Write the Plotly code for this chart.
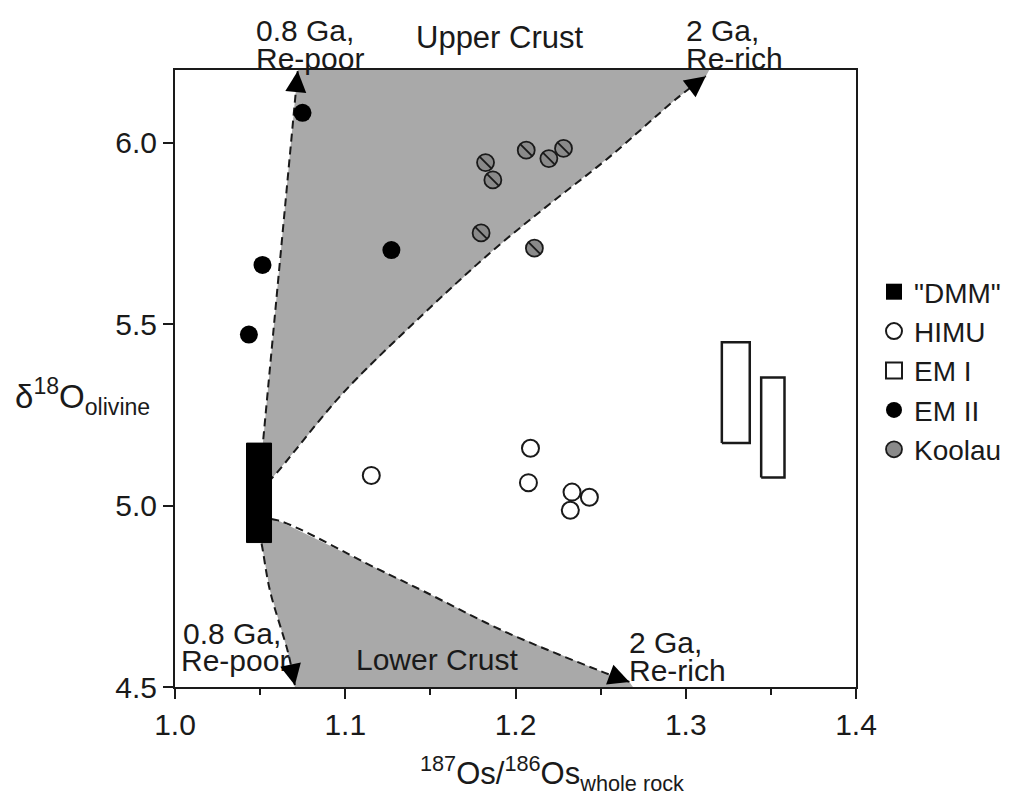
import math
import plotly.graph_objects as go

# ---------------- data ----------------
em2_x = [1.0749, 1.0514, 1.0434, 1.1271]
em2_y = [6.082, 5.663, 5.471, 5.704]

koolau_x = [1.1824, 1.1867, 1.2063, 1.2196, 1.2282, 1.1798, 1.2111]
koolau_y = [5.945, 5.897, 5.979, 5.956, 5.984, 5.751, 5.709]

himu_x = [1.1153, 1.2088, 1.2076, 1.2332, 1.2322, 1.2434]
himu_y = [5.083, 5.158, 5.063, 5.037, 4.987, 5.023]

dmm_x = [1.0420, 1.0567]
dmm_y = [4.898, 5.172]

em1_xlo = [1.3212, 1.3443]
em1_xhi = [1.3376, 1.3580]
em1_ylo = [5.172, 5.077]
em1_yhi = [5.450, 5.353]

# mixing trajectories
up_poor_x = [1.049, 1.0721]
up_poor_y = [5.04, 6.197]
up_rich_x = [1.049, 1.0567, 1.0985, 1.1437, 1.1865, 1.2199, 1.2551, 1.2943, 1.3118]
up_rich_y = [5.04, 5.074, 5.309, 5.518, 5.702, 5.830, 5.960, 6.120, 6.183]
up_top_x = [1.0721, 1.3138]          # where upper field meets top of frame

lo_poor_x = [1.049, 1.0508, 1.0557, 1.0665, 1.0704]
lo_poor_y = [4.93, 4.896, 4.767, 4.593, 4.505]
lo_rich_x = [1.049, 1.0606, 1.1183, 1.1456, 1.1926, 1.2493, 1.2669]
lo_rich_y = [4.965, 4.959, 4.827, 4.765, 4.655, 4.545, 4.514]
lo_bot_x = [1.0704, 1.269]           # where lower field meets bottom of frame

x_range = [1.0, 1.4]
y_range = [4.5, 6.2]
x_ticks = [1.0, 1.1, 1.2, 1.3, 1.4]
y_ticks = [4.5, 5.0, 5.5, 6.0]

# ---------------- layout constants ----------------
OFF = 8                      # page body margin of the html page
W, H = 1010, 789
ML, MR, MT, MB = 167, 161, 62, 110
FONT = "Liberation Sans, Arial, Helvetica, sans-serif"
INK = "#1a1a1a"
FIELD = "#a9a9a9"

plot_w = W - ML - MR
plot_h = H - MT - MB
left_px = OFF + ML
bottom_px = OFF + H - MB

fig = go.Figure()

# shaded fields
upper_poly_x = up_poor_x[:-1] + up_top_x + up_rich_x[::-1]
upper_poly_y = up_poor_y[:-1] + [y_range[1], y_range[1]] + up_rich_y[::-1]
fig.add_trace(go.Scatter(x=upper_poly_x, y=upper_poly_y, mode="lines", fill="toself",
                         fillcolor=FIELD, line=dict(width=0), hoverinfo="skip",
                         showlegend=False))
lower_poly_x = lo_rich_x + lo_bot_x[::-1] + lo_poor_x[::-1][1:]
lower_poly_y = lo_rich_y + [y_range[0], y_range[0]] + lo_poor_y[::-1][1:]
fig.add_trace(go.Scatter(x=lower_poly_x, y=lower_poly_y, mode="lines", fill="toself",
                         fillcolor=FIELD, line=dict(width=0), hoverinfo="skip",
                         showlegend=False))

# dashed trajectories
for xs, ys, shape in [(up_poor_x, up_poor_y, "linear"), (up_rich_x, up_rich_y, "spline"),
                      (lo_poor_x, lo_poor_y, "spline"), (lo_rich_x, lo_rich_y, "spline")]:
    fig.add_trace(go.Scatter(x=xs, y=ys, mode="lines",
                             line=dict(color=INK, width=2, dash="8px,5px", shape=shape),
                             hoverinfo="skip", showlegend=False))

# DMM box
fig.add_trace(go.Scatter(x=[dmm_x[0], dmm_x[1], dmm_x[1], dmm_x[0], dmm_x[0]],
                         y=[dmm_y[0], dmm_y[0], dmm_y[1], dmm_y[1], dmm_y[0]],
                         mode="lines", fill="toself", fillcolor="black",
                         line=dict(color="black", width=1), showlegend=False))
# EM I boxes
for i in range(len(em1_xlo)):
    fig.add_trace(go.Scatter(x=[em1_xlo[i], em1_xhi[i], em1_xhi[i], em1_xlo[i], em1_xlo[i]],
                             y=[em1_ylo[i], em1_ylo[i], em1_yhi[i], em1_yhi[i], em1_ylo[i]],
                             mode="lines", fill="toself", fillcolor="white",
                             line=dict(color=INK, width=2.5), showlegend=False))

# legend proxies and markers
fig.add_trace(go.Scatter(x=[None], y=[None], mode="markers", name='"DMM"',
                         marker=dict(symbol="square", size=16, color="black")))
fig.add_trace(go.Scatter(x=himu_x, y=himu_y, mode="markers", name="HIMU",
                         marker=dict(symbol="circle", size=17, color="white",
                                     line=dict(color=INK, width=2))))
fig.add_trace(go.Scatter(x=[None], y=[None], mode="markers", name="EM I",
                         marker=dict(symbol="square", size=16, color="white",
                                     line=dict(color=INK, width=2))))
fig.add_trace(go.Scatter(x=em2_x, y=em2_y, mode="markers", name="EM II",
                         marker=dict(symbol="circle", size=18, color="black")))
fig.add_trace(go.Scatter(x=koolau_x, y=koolau_y, mode="markers", name="Koolau",
                         marker=dict(symbol="circle", size=17, color="#8a8a8a",
                                     line=dict(color=INK, width=1.8))))
fig.add_trace(go.Scatter(x=koolau_x, y=koolau_y, mode="markers", showlegend=False,
                         marker=dict(symbol="line-nw", size=12,
                                     line=dict(color=INK, width=1.8))))

# arrowheads at the ends of the trajectories
sx = plot_w / (x_range[1] - x_range[0])
sy = plot_h / (y_range[1] - y_range[0])
annotations = []


def px2paper_x(px):
    return (px - left_px) / plot_w


def px2paper_y(py):
    return (bottom_px - py) / plot_h


def label(text, px, py, anchor="left", size=30):
    annotations.append(dict(x=px2paper_x(px), y=px2paper_y(py), xref="paper", yref="paper",
                            text=text, showarrow=False, xanchor=anchor, yanchor="middle",
                            font=dict(family=FONT, size=size, color=INK)))


label("0.8 Ga,", 254, 31)
label("Re-poor", 254, 58)
label("Upper Crust", 500, 37, "center", 31)
label("2 Ga,", 685, 31)
label("Re-rich", 685, 58)
label("0.8 Ga,", 181, 633)
label("Re-poor", 179, 660)
label("Lower Crust", 437, 659, "center")
label("2 Ga,", 628, 642)
label("Re-rich", 628, 670)

for xs, ys in [(up_poor_x, up_poor_y), (up_rich_x, up_rich_y),
               (lo_poor_x, lo_poor_y), (lo_rich_x, lo_rich_y)]:
    dx = (xs[-2] - xs[-1]) * sx
    dy = -(ys[-2] - ys[-1]) * sy
    n = math.hypot(dx, dy)
    L = 18
    annotations.append(dict(x=xs[-1], y=ys[-1], xref="x", yref="y", text="",
                            showarrow=True, arrowhead=2, arrowsize=2.8, arrowwidth=1.5,
                            arrowcolor="black", ax=dx / n * L, ay=dy / n * L))

# axis titles
annotations.append(dict(x=px2paper_x(152), y=px2paper_y(396), xref="paper", yref="paper",
                        text="δ<sup>18</sup>O<sub>olivine</sub>", showarrow=False,
                        xanchor="right", yanchor="middle",
                        font=dict(family=FONT, size=33, color=INK)))
annotations.append(dict(x=px2paper_x(553), y=px2paper_y(773), xref="paper", yref="paper",
                        text="<sup>187</sup>Os/<sup>186</sup>Os<sub>whole rock</sub>", showarrow=False,
                        xanchor="center", yanchor="middle",
                        font=dict(family=FONT, size=31, color=INK)))

axis_common = dict(showgrid=False, zeroline=False, showline=True, linecolor=INK, linewidth=2,
                   mirror=True, ticks="outside", ticklen=10, tickwidth=2, tickcolor=INK,
                   tickfont=dict(family=FONT, size=30, color=INK), tickformat=".1f")

fig.update_layout(
    width=W, height=H, autosize=False,
    margin=dict(l=ML, r=MR, t=MT, b=MB),
    paper_bgcolor="white", plot_bgcolor="white",
    xaxis=dict(range=x_range, tickvals=x_ticks,
               minor=dict(dtick=0.05, tick0=1.0, ticks="outside", ticklen=6, tickwidth=2,
                          tickcolor=INK), **axis_common),
    yaxis=dict(range=y_range, tickvals=y_ticks, **axis_common),
    legend=dict(x=px2paper_x(874), y=px2paper_y(267), xanchor="left", yanchor="top",
                font=dict(family=FONT, size=28, color=INK), bgcolor="rgba(0,0,0,0)",
                itemwidth=30, tracegroupgap=0),
    annotations=annotations,
    showlegend=True,
)

fig.write_html("out.html")
